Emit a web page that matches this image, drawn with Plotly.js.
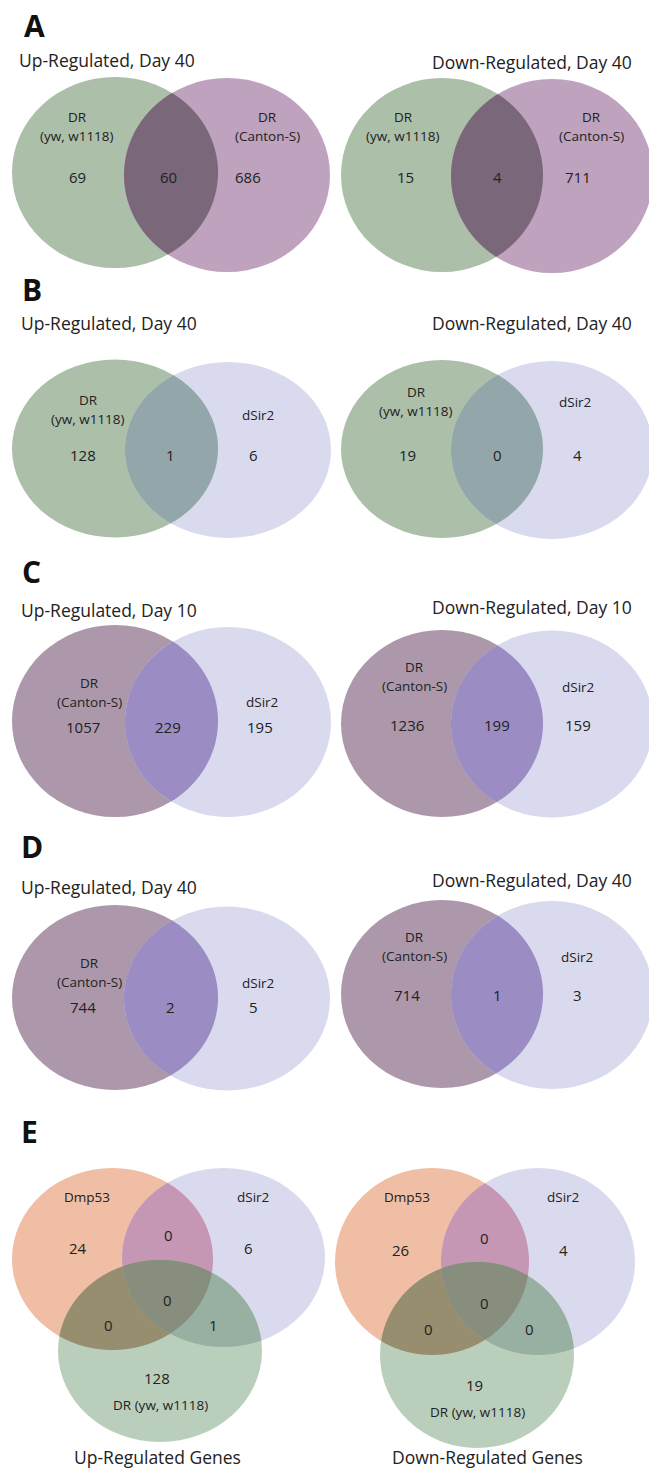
<!DOCTYPE html>
<html><head><meta charset="utf-8">
<script src="https://cdn.plot.ly/plotly-3.0.1.min.js"></script>
<style>html,body{margin:0;padding:0;background:#fff;overflow:hidden}</style>
</head><body><div id="chart" style="width:649px;height:1470px"></div>
<script>
// ---------------- DATA ----------------
const panelLetters = ['A', 'B', 'C', 'D', 'E'];
const upTitles = ['Up-Regulated, Day 40', 'Up-Regulated, Day 40', 'Up-Regulated, Day 10', 'Up-Regulated, Day 40'];
const downTitles = ['Down-Regulated, Day 40', 'Down-Regulated, Day 40', 'Down-Regulated, Day 10', 'Down-Regulated, Day 40'];
const setYw = ['DR', '(yw, w1118)'];
const setCanton = ['DR', '(Canton-S)'];
const setSir = ['dSir2'];
const setP53 = ['Dmp53'];
const setYwOneLine = ['DR (yw, w1118)'];
// two-set counts: [left only, both, right only]
const upA = [69, 60, 686];
const downA = [15, 4, 711];
const upB = [128, 1, 6];
const downB = [19, 0, 4];
const upC = [1057, 229, 195];
const downC = [1236, 199, 159];
const upD = [744, 2, 5];
const downD = [714, 1, 3];
// three-set counts: [Dmp53 only, dSir2 only, DR only, Dmp53&dSir2, Dmp53&DR, dSir2&DR, all three]
const upE = [24, 6, 128, 0, 0, 1, 0];
const downE = [26, 4, 19, 0, 0, 0, 0];
const bottomTitles = ['Up-Regulated Genes', 'Down-Regulated Genes'];

// ---------------- STYLE / LAYOUT ----------------
const C = {
  green: '#abbfa9', purpleA: '#bea2be', ovA: '#7a677a',
  lav: '#dadaee', ovB: '#93a7ab',
  purpleC: '#ac98aa', ovC: '#9b8cc4',
  orange: '#efbea4', greenE: '#bacfbb', OL: '#c697b5', OG: '#978d6f', LG: '#97b0a1', OLG: '#878e7e'
};
const TXT = '#222222';
const FONT = 'Open Sans, Noto Sans, sans-serif';

const twoSet = [
  {counts: upA, names: [setYw, setCanton], e: [[115,172.5,103,95.5],[227,175,103,97]], col: [C.green, C.purpleA, C.ovA],
   nameY: [[77,117],[267,117]], cnt: [[77,177],[168,177],[248,177]]},
  {counts: downA, names: [setYw, setCanton], e: [[442,175,101,97],[552,176,101,97]], col: [C.green, C.purpleA, C.ovA],
   nameY: [[403,117],[591,117]], cnt: [[405,177],[497,177],[578,177]]},
  {counts: upB, names: [setYw, setSir], e: [[115,448.5,103,89],[228,450,103,88]], col: [C.green, C.lav, C.ovB],
   nameY: [[88,400],[258,415]], cnt: [[83,455],[170,455],[253,455]]},
  {counts: downB, names: [setYw, setSir], e: [[442,449,101,89],[552,450,101,89]], col: [C.green, C.lav, C.ovB],
   nameY: [[416,392],[575,402]], cnt: [[407,455],[497,455],[577,455]]},
  {counts: upC, names: [setCanton, setSir], e: [[115,721,103,96],[228,722,103,95]], col: [C.purpleC, C.lav, C.ovC],
   nameY: [[89,683],[262,702]], cnt: [[83,727],[168,727],[260,727]]},
  {counts: downC, names: [setCanton, setSir], e: [[442,723.5,101,93.5],[552,724,101,93.5]], col: [C.purpleC, C.lav, C.ovC],
   nameY: [[414,667],[578,687]], cnt: [[407,725],[497,725],[578,725]]},
  {counts: upD, names: [setCanton, setSir], e: [[115,997.5,103,92.5],[227,998.5,103,92]], col: [C.purpleC, C.lav, C.ovC],
   nameY: [[89,963],[258,983]], cnt: [[83,1007],[170,1007],[253,1007]]},
  {counts: downD, names: [setCanton, setSir], e: [[442,994,101,94],[552,995,101,94]], col: [C.purpleC, C.lav, C.ovC],
   nameY: [[414,937],[577,957]], cnt: [[407,995],[497,995],[577,995]]}
];
const threeSet = [
  {counts: upE, e: [[112.5,1259,100.5,91],[223.5,1257.5,101.5,89.5],[160,1351,102,91]],
   nameP53: [87,1197], nameSir: [253,1197], nameDR: [160,1405], title: [157,1457],
   cnt: [[78,1248],[248,1248],[157,1378],[168,1235],[108,1325],[213,1325],[167,1300]]},
  {counts: downE, e: [[432,1261.5,97,93.5],[538,1261.5,97,93.5],[477,1355,97,93]],
   nameP53: [407,1197], nameSir: [563,1197], nameDR: [477,1412], title: [487,1457],
   cnt: [[400,1250],[563,1250],[474,1385],[484,1238],[428,1329],[529,1329],[484,1303]]}
];
const letterPos = [[34,25],[32,289],[31,571],[32,846],[29,1131]];
const upTitlePos = [[18,60],[20,323],[20,610],[20,887]];
const downTitlePos = [[633,62],[633,323],[633,607],[633,880]];

// ---------------- HELPERS ----------------
function ellipseShape(e, color) {
  return {type: 'circle', xref: 'x', yref: 'y', x0: e[0]-e[2], x1: e[0]+e[2], y0: e[1]-e[3], y1: e[1]+e[3],
          fillcolor: color, line: {width: 0}, layer: 'above'};
}
function inside(p, e) {
  const dx = (p[0]-e[0])/e[2], dy = (p[1]-e[1])/e[3];
  return dx*dx + dy*dy <= 1.000001;
}
function intersectShape(list, color) {
  const pts = [];
  const N = 1440;
  list.forEach((e, i) => {
    for (let k = 0; k < N; k++) {
      const t = 2*Math.PI*k/N;
      const p = [e[0]+e[2]*Math.cos(t), e[1]+e[3]*Math.sin(t)];
      if (list.every((o, j) => j === i || inside(p, o))) pts.push(p);
    }
  });
  let cx = 0, cy = 0;
  pts.forEach(p => { cx += p[0]; cy += p[1]; });
  cx /= pts.length; cy /= pts.length;
  pts.sort((a, b) => Math.atan2(a[1]-cy, a[0]-cx) - Math.atan2(b[1]-cy, b[0]-cx));
  const path = 'M' + pts.map(p => p[0].toFixed(2) + ',' + p[1].toFixed(2)).join('L') + 'Z';
  return {type: 'path', xref: 'x', yref: 'y', path: path, fillcolor: color, line: {width: 0}, layer: 'above'};
}
function txt(x, y, text, size, opts) {
  return Object.assign({x: x, y: y, xref: 'x', yref: 'y', text: String(text), showarrow: false,
    xanchor: 'center', yanchor: 'middle', borderpad: 0, font: {family: FONT, size: size, color: TXT}}, opts || {});
}
function nameLines(pos, lines, out) {
  lines.forEach((l, i) => out.push(txt(pos[0], pos[1] + i*19, l, 13.5)));
}

// ---------------- BUILD ----------------
const shapes = [];
const annotations = [];

twoSet.forEach(p => {
  shapes.push(ellipseShape(p.e[0], p.col[0]));
  shapes.push(ellipseShape(p.e[1], p.col[1]));
  shapes.push(intersectShape([p.e[0], p.e[1]], p.col[2]));
  nameLines(p.nameY[0], p.names[0], annotations);
  nameLines(p.nameY[1], p.names[1], annotations);
  p.counts.forEach((v, i) => annotations.push(txt(p.cnt[i][0], p.cnt[i][1], v, 15)));
});

threeSet.forEach((p, k) => {
  const [O, L, G] = p.e;
  shapes.push(ellipseShape(O, C.orange));
  shapes.push(ellipseShape(L, C.lav));
  shapes.push(ellipseShape(G, C.greenE));
  shapes.push(intersectShape([O, L], C.OL));
  shapes.push(intersectShape([O, G], C.OG));
  shapes.push(intersectShape([L, G], C.LG));
  shapes.push(intersectShape([O, L, G], C.OLG));
  nameLines(p.nameP53, setP53, annotations);
  nameLines(p.nameSir, setSir, annotations);
  nameLines(p.nameDR, setYwOneLine, annotations);
  p.counts.forEach((v, i) => annotations.push(txt(p.cnt[i][0], p.cnt[i][1], v, 15)));
  annotations.push(txt(p.title[0], p.title[1], bottomTitles[k], 17.5));
});

panelLetters.forEach((l, i) => annotations.push(
  txt(letterPos[i][0], letterPos[i][1], '<b>' + l + '</b>', 30, {font: {family: 'Open Sans, sans-serif', size: 30, color: '#111'}})));
upTitles.forEach((t, i) => annotations.push(txt(upTitlePos[i][0], upTitlePos[i][1], t, 17.5, {xanchor: 'left'})));
downTitles.forEach((t, i) => annotations.push(txt(downTitlePos[i][0], downTitlePos[i][1], t, 17.5, {xanchor: 'right'})));

const layout = {
  width: 649, height: 1470,
  margin: {l: 0, r: 0, t: 0, b: 0, pad: 0},
  paper_bgcolor: '#ffffff', plot_bgcolor: '#ffffff',
  xaxis: {range: [0, 649], visible: false, fixedrange: true},
  yaxis: {range: [1470, 0], visible: false, fixedrange: true},
  showlegend: false,
  shapes: shapes,
  annotations: annotations
};
Plotly.newPlot('chart', [], layout, {staticPlot: true, displayModeBar: false});
</script>
</body></html>
